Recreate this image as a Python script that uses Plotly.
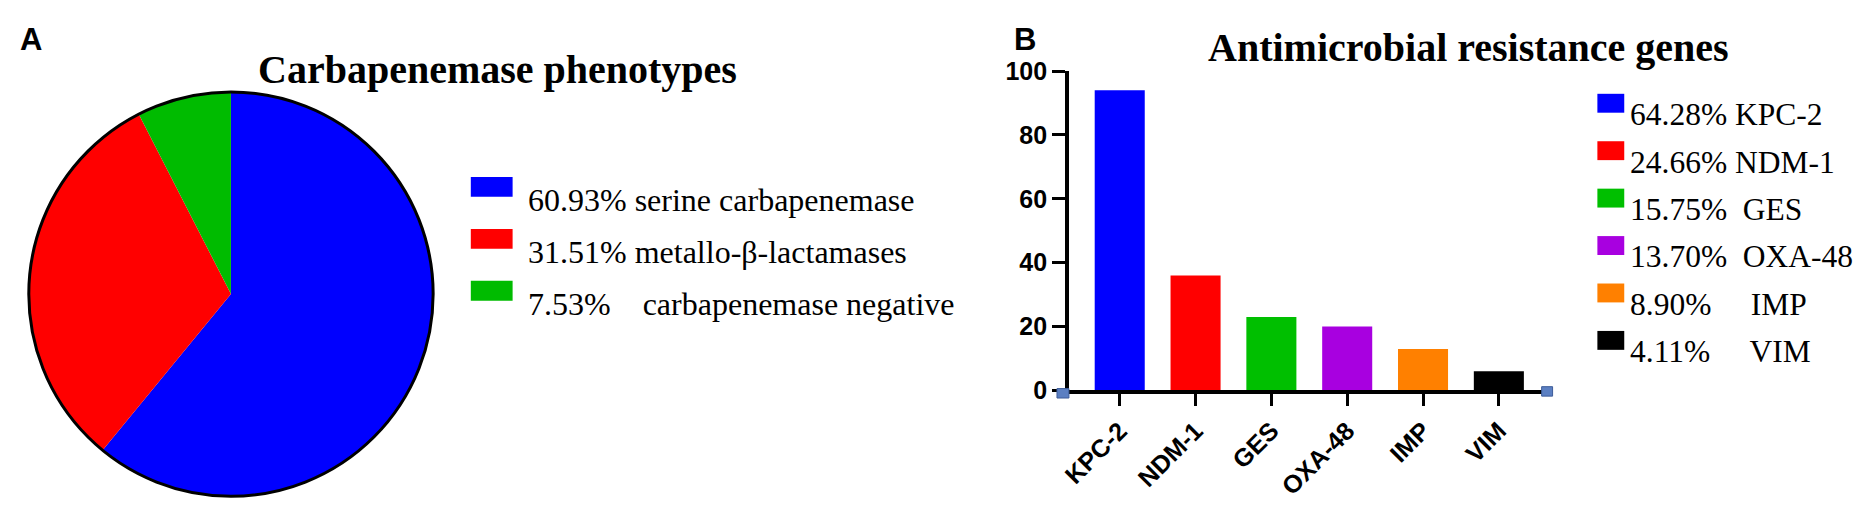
import plotly.graph_objects as go

W, H = 1875, 507

# ---- data ----
pie_labels = ["serine carbapenemase", "metallo-β-lactamases", "carbapenemase negative"]
pie_values = [60.93, 31.51, 7.53]
pie_legend_text = ["60.93% serine carbapenemase",
                   "31.51% metallo-β-lactamases",
                   "7.53%\u00a0\u00a0\u00a0\u00a0carbapenemase negative"]
pie_colors = ["#0000FF", "#FF0000", "#00BB00"]

gene_names = ["KPC-2", "NDM-1", "GES", "OXA-48", "IMP", "VIM"]
gene_counts = [94, 36, 23, 20, 13, 6]
gene_legend_text = ["64.28% KPC-2",
                    "24.66% NDM-1",
                    "15.75%\u00a0\u00a0GES",
                    "13.70%\u00a0\u00a0OXA-48",
                    "8.90%\u00a0\u00a0\u00a0\u00a0\u00a0IMP",
                    "4.11%\u00a0\u00a0\u00a0\u00a0\u00a0VIM"]
gene_colors = ["#0000FF", "#FF0000", "#00BF00", "#A800E0", "#FF8000", "#000000"]
y_ticks = [0, 20, 40, 60, 80, 100]


def px(x):
    return x / W


def py(y):
    return 1 - y / H


SERIF = "Liberation Serif, Times New Roman, serif"
SANS = "Liberation Sans, Arial, sans-serif"

fig = go.Figure()

pie_dom = dict(x=[px(2), px(428)], y=[py(502), py(74)])
fig.add_trace(go.Pie(
    values=pie_values, labels=pie_labels, sort=False, direction="clockwise",
    rotation=0, textinfo="none", showlegend=False, domain=pie_dom,
    marker=dict(colors=pie_colors, line=dict(width=0)),
))
fig.add_trace(go.Pie(
    values=[sum(pie_values)], labels=["all"], sort=False, textinfo="none",
    showlegend=False, domain=pie_dom, hoverinfo="skip",
    marker=dict(colors=["rgba(0,0,0,0)"], line=dict(color="black", width=3)),
))

fig.add_trace(go.Bar(
    x=gene_names, y=gene_counts, width=0.66, showlegend=False,
    marker=dict(color=gene_colors, line=dict(width=0)),
))

shapes = []
annotations = []

# Pie legend
for i, (txt, col) in enumerate(zip(pie_legend_text, pie_colors)):
    yc = 174.5 + 55 * i
    shapes.append(dict(type="rect", xref="paper", yref="paper",
                       x0=px(456), x1=px(498), y0=py(yc - 10.5), y1=py(yc + 10.5),
                       fillcolor=col, line=dict(width=0)))
    annotations.append(dict(text=txt, xref="paper", yref="paper", x=px(511), y=py(yc + 14),
                            xanchor="left", yanchor="middle", showarrow=False,
                            font=dict(family=SERIF, size=32, color="black")))

# Bar legend
for i, (txt, col) in enumerate(zip(gene_legend_text, gene_colors)):
    yc = 86 + 50.2 * i
    shapes.append(dict(type="rect", xref="paper", yref="paper",
                       x0=px(1588), x1=px(1615), y0=py(yc - 10), y1=py(yc + 10),
                       fillcolor=col, line=dict(width=0)))
    annotations.append(dict(text=txt, xref="paper", yref="paper", x=px(1619), y=py(yc + 12),
                            xanchor="left", yanchor="middle", showarrow=False,
                            font=dict(family=SERIF, size=31.5, color="black")))

# Titles and panel letters
annotations.append(dict(text="<b>Carbapenemase phenotypes</b>", xref="paper", yref="paper",
                        x=px(483), y=py(50), xanchor="center", yanchor="middle", showarrow=False,
                        font=dict(family=SERIF, size=40, color="black")))
annotations.append(dict(text="<b>Antimicrobial resistance genes</b>", xref="paper", yref="paper",
                        x=px(1458), y=py(27), xanchor="center", yanchor="middle", showarrow=False,
                        font=dict(family=SERIF, size=40, color="black")))
annotations.append(dict(text="<b>A</b>", xref="paper", yref="paper",
                        x=px(1), y=py(19), xanchor="left", yanchor="middle", showarrow=False,
                        font=dict(family=SANS, size=31, color="black")))
annotations.append(dict(text="<b>B</b>", xref="paper", yref="paper",
                        x=px(1000), y=py(19), xanchor="left", yanchor="middle", showarrow=False,
                        font=dict(family=SANS, size=31, color="black")))

# small end markers on the x axis
for (x0, x1, y0, y1) in [(1045, 1057, 388, 398), (1532, 1543, 386, 396)]:
    shapes.append(dict(type="rect", xref="paper", yref="paper",
                       x0=px(x0), x1=px(x1), y0=py(y1), y1=py(y0),
                       fillcolor="#5b7fc2", line=dict(color="#3d5c99", width=1)))

fig.update_layout(
    width=W, height=H, margin=dict(l=0, r=0, t=0, b=0),
    paper_bgcolor="white", plot_bgcolor="white",
    shapes=shapes, annotations=annotations,
    xaxis=dict(domain=[px(1057), px(1537)], type="category", range=[-0.67, 5.63],
               showline=True, linecolor="black", linewidth=3.5,
               ticks="outside", ticklen=12, tickwidth=3, tickcolor="black",
               tickangle=-45, showgrid=False, zeroline=False,
               tickfont=dict(family=SANS, size=25, color="black", weight="bold")),
    yaxis=dict(domain=[py(390), py(52)], range=[0, 100], tickvals=y_ticks,
               showline=True, linecolor="black", linewidth=3.5,
               ticks="outside", ticklen=13, tickwidth=3, tickcolor="black",
               showgrid=False, zeroline=False,
               tickfont=dict(family=SANS, size=25, color="black", weight="bold")),
)

fig.write_html("out.html")
